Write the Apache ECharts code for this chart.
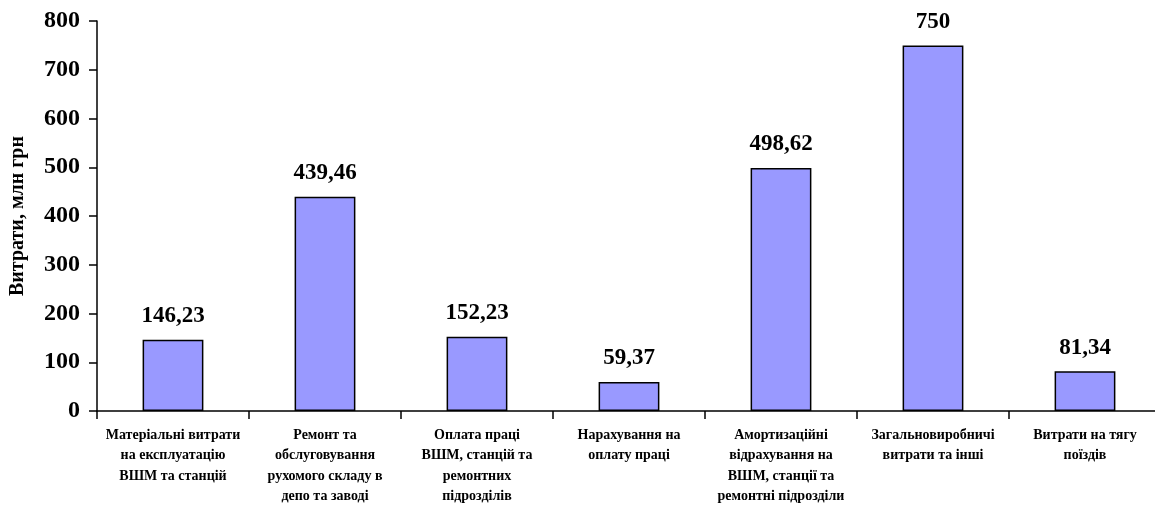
<!DOCTYPE html>
<html>
<head>
<meta charset="utf-8">
<script src="https://cdn.jsdelivr.net/npm/echarts@6/dist/echarts.min.js"></script>
<style>
html,body{margin:0;padding:0;background:#fff;}
#chart{width:1155px;height:529px;}
</style>
</head>
<body>
<div id="chart"></div>
<script>
const categories = [
  "Матеріальні витрати\nна експлуатацію\nВШМ та станцій",
  "Ремонт та\nобслуговування\nрухомого складу в\nдепо та заводі",
  "Оплата праці\nВШМ, станцій та\nремонтних\nпідрозділів",
  "Нарахування на\nоплату праці",
  "Амортизаційні\nвідрахування на\nВШМ, станції та\nремонтні підрозділи",
  "Загальновиробничі\nвитрати та інші",
  "Витрати на тягу\nпоїздів"
];
const values = [146.23, 439.46, 152.23, 59.37, 498.62, 750, 81.34];
const yTicks = [0, 100, 200, 300, 400, 500, 600, 700, 800];
const yAxisTitle = "Витрати, млн грн";

const serif = "'Liberation Serif','Times New Roman',serif";
const chart = echarts.init(document.getElementById('chart'), null, {renderer:'canvas'});
chart.setOption({
  animation: false,
  backgroundColor: '#ffffff',
  grid: {left: 97, width: 1064, top: 21, bottom: 118, containLabel: false, outerBoundsMode: 'none'},
  xAxis: {
    type: 'category',
    data: categories,
    boundaryGap: true,
    axisLine: {lineStyle: {color: '#000', width: 1.5}},
    axisTick: {show: true, length: 8, lineStyle: {color: '#000', width: 1.5}},
    axisLabel: {
      interval: 0, margin: 14, color: '#000',
      fontFamily: serif, fontWeight: 'bold', fontSize: 14, lineHeight: 20.5,
      verticalAlign: 'top', align: 'center'
    }
  },
  yAxis: {
    type: 'value',
    min: yTicks[0], max: yTicks[yTicks.length - 1], interval: 100,
    name: yAxisTitle,
    nameLocation: 'middle',
    nameGap: 69,
    nameRotate: 90,
    nameTextStyle: {fontFamily: serif, fontWeight: 'bold', fontSize: 20, color: '#000'},
    axisLine: {show: true, lineStyle: {color: '#000', width: 1.5}},
    axisTick: {show: true, length: 8, lineStyle: {color: '#000', width: 1.5}},
    splitLine: {show: false},
    axisLabel: {margin: 17, color: '#000', fontFamily: serif, fontWeight: 'bold', fontSize: 24}
  },
  series: [{
    type: 'bar',
    data: values,
    barWidth: '40%',
    itemStyle: {color: '#9999FF', borderColor: '#000', borderWidth: 1.5},
    label: {
      show: true, position: 'top', distance: 12, color: '#000',
      fontFamily: serif, fontWeight: 'bold', fontSize: 23,
      formatter: p => String(p.value).replace('.', ',')
    }
  }]
});
</script>
</body>
</html>
